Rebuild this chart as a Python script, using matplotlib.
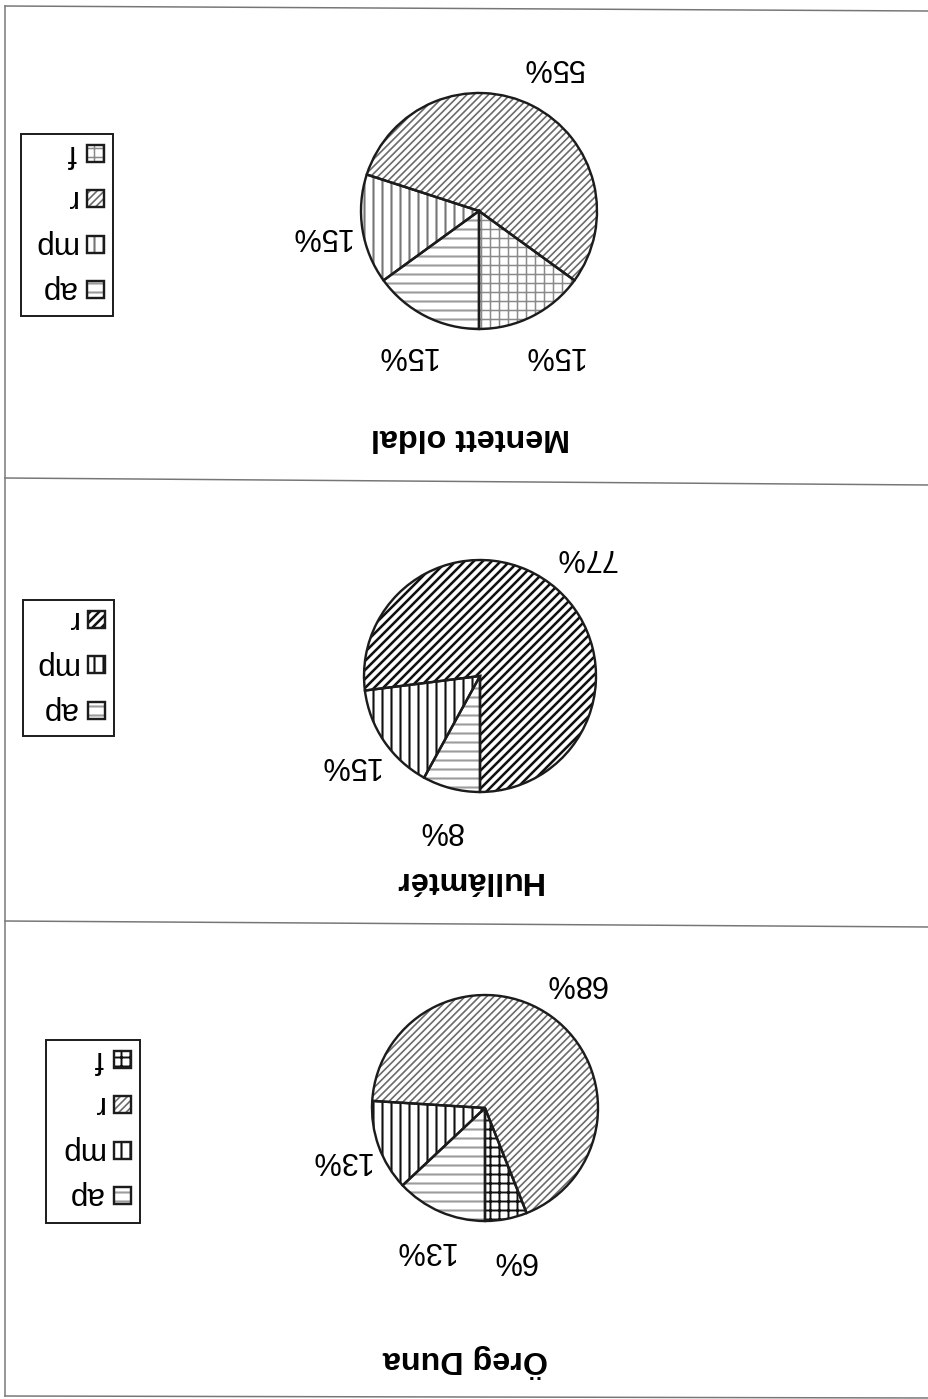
import matplotlib
matplotlib.use("Agg")
import matplotlib.pyplot as plt
from matplotlib.patches import Rectangle

DPI = 108
W, H = 928, 1399

# ---------------------------------------------------------------- data
titles = ["Mentett oldal", "Hullámtér", "Öreg Duna"]

mentett_labels = ["ap", "mp", "r", "f"]
mentett_pct = [15, 15, 55, 15]

hullamter_labels = ["ap", "mp", "r"]
hullamter_pct = [8, 15, 77]

oreg_labels = ["ap", "mp", "r", "f"]
oreg_pct = [13, 13, 68, 6]

# ------------------------------------------------- fill styles per slice
# (hatch pattern, hatch colour, hatch line width in pt)
GRAY_DIAG = ("/////", "#6a6a6a", 1.1)
BLACK_DIAG = ("////", "#111111", 1.7)
GRAY_VERT = ("||", "#767676", 1.4)
BLACK_VERT = ("||", "#111111", 1.4)
GRAY_HORZ = ("--", "#9c9c9c", 1.4)
GRAY_GRID = ("++", "#8a8a8a", 1.0)
BLACK_GRID = ("++", "#111111", 1.3)

TEXT_FONT = "Liberation Sans"
LABEL_SIZE = 20.5
TITLE_SIZE = 21.5
LEGEND_SIZE = 21
OUTLINE = "#1c1c1c"

# layout in pixel units, origin top-left
panels = [
    dict(title=titles[0], labels=mentett_labels, values=mentett_pct,
         styles=[GRAY_HORZ, GRAY_VERT, GRAY_DIAG, GRAY_GRID],
         center=(479, 211), radius=118, title_xy=(470, 437),
         legend_box=(21, 134, 113, 316)),
    dict(title=titles[1], labels=hullamter_labels, values=hullamter_pct,
         styles=[GRAY_HORZ, BLACK_VERT, BLACK_DIAG],
         center=(480, 676), radius=116, title_xy=(468, 880),
         legend_box=(23, 600, 114, 736)),
    dict(title=titles[2], labels=oreg_labels, values=oreg_pct,
         styles=[GRAY_HORZ, BLACK_VERT, GRAY_DIAG, BLACK_GRID],
         center=(485, 1108), radius=113, title_xy=(465, 1361),
         legend_box=(46, 1040, 140, 1223)),
]


def fy(y):
    """Convert a top-down pixel row into the upward data axis."""
    return H - y


def style_hatch(patch, style):
    hatch, color, lw = style
    patch.set_hatch(hatch)
    patch.set_edgecolor(color)
    patch.set_linewidth(0)
    if hasattr(patch, "set_hatch_linewidth"):
        patch.set_hatch_linewidth(lw)


plt.rcParams["hatch.linewidth"] = 1.3

fig = plt.figure(figsize=(W / DPI, H / DPI), dpi=DPI)
ax = fig.add_axes([0, 0, 1, 1])

for p in panels:
    cx, cy = p["center"]
    r = p["radius"]
    n = len(p["values"])

    # hatched fills with percentage labels
    wedges, _, autotexts = ax.pie(
        p["values"], center=(cx, fy(cy)), radius=r,
        startangle=270, counterclock=False, frame=True,
        colors=["white"] * n,
        autopct=lambda v: f"{v:.0f}%", pctdistance=1.37,
        wedgeprops=dict(linewidth=0),
        textprops=dict(fontsize=LABEL_SIZE, rotation=180,
                       family=TEXT_FONT, color="black"),
    )
    for w, st in zip(wedges, p["styles"]):
        style_hatch(w, st)

    # slice outlines on top
    ax.pie(p["values"], center=(cx, fy(cy)), radius=r,
           startangle=270, counterclock=False, frame=True,
           colors=["none"] * n,
           wedgeprops=dict(fill=False, edgecolor=OUTLINE, linewidth=1.6))

    # title
    tx, ty = p["title_xy"]
    ax.text(tx, fy(ty), p["title"], rotation=180, ha="center", va="center",
            fontsize=TITLE_SIZE, fontweight="bold", family=TEXT_FONT,
            color="black")

    # legend box (entries listed ap, mp, r, f)
    x0, y0, x1, y1 = p["legend_box"]
    ax.add_patch(Rectangle((x0, fy(y1)), x1 - x0, y1 - y0, fill=False,
                           edgecolor=OUTLINE, linewidth=1.3))
    sw = 17
    for k, (lab, st) in enumerate(zip(p["labels"][::-1], p["styles"][::-1])):
        yc = y0 + 19 + k * 45.5
        sx1 = x1 - 9
        sx0 = sx1 - sw
        swatch = Rectangle((sx0, fy(yc + sw / 2)), sw, sw, facecolor="white")
        style_hatch(swatch, st)
        ax.add_patch(swatch)
        ax.add_patch(Rectangle((sx0, fy(yc + sw / 2)), sw, sw, fill=False,
                               edgecolor=OUTLINE, linewidth=1.6))
        ax.text(sx0 - 11, fy(yc - 8), lab, rotation=180,
                rotation_mode="anchor", ha="left", va="baseline",
                fontsize=LEGEND_SIZE, family=TEXT_FONT, color="black")

# page frame and panel separators
frame_color = "#767676"
ax.plot([5, W], [fy(6), fy(11)], color=frame_color, lw=1.0)
ax.plot([5, W], [fy(478), fy(485)], color=frame_color, lw=1.0)
ax.plot([5, W], [fy(921), fy(927)], color=frame_color, lw=1.0)
ax.plot([5, W], [fy(1396), fy(1398)], color=frame_color, lw=1.0)
ax.plot([5, 5], [fy(6), fy(1396)], color=frame_color, lw=1.0)

ax.set_xlim(0, W)
ax.set_ylim(0, H)
ax.set_aspect("equal")
ax.set_axis_off()

fig.savefig("out.png", dpi=DPI, facecolor="white")
